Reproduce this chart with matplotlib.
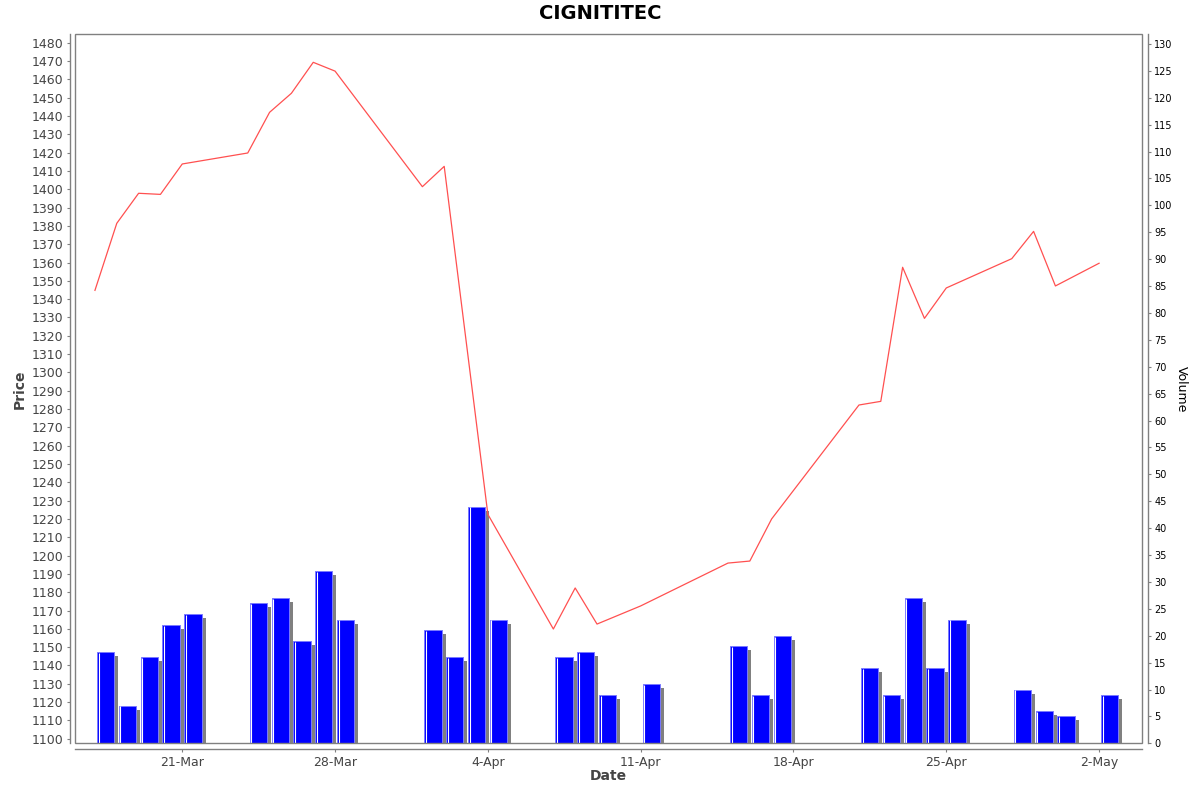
import datetime as dt
import matplotlib
matplotlib.use("Agg")
import matplotlib.pyplot as plt
import matplotlib.dates as mdates
from matplotlib.transforms import ScaledTranslation
from matplotlib.patches import Rectangle

plt.rcParams['font.family'] = ['DejaVu Sans']

title = "CIGNITITEC"

price_dates = ["2025-03-17", "2025-03-18", "2025-03-19", "2025-03-20", "2025-03-21",
               "2025-03-24", "2025-03-25", "2025-03-26", "2025-03-27", "2025-03-28",
               "2025-04-01", "2025-04-02", "2025-04-04",
               "2025-04-07", "2025-04-08", "2025-04-09", "2025-04-11",
               "2025-04-15", "2025-04-16", "2025-04-17",
               "2025-04-21", "2025-04-22", "2025-04-23", "2025-04-24", "2025-04-25",
               "2025-04-28", "2025-04-29", "2025-04-30", "2025-05-02"]
prices = [1344.8, 1381.4, 1397.8, 1397.2, 1413.8,
          1419.8, 1442.0, 1452.4, 1469.3, 1464.5,
          1401.4, 1412.5, 1222.5,
          1159.9, 1182.3, 1162.6, 1172.5,
          1195.9, 1197.0, 1220.0,
          1282.2, 1284.2, 1357.4, 1329.5, 1346.1,
          1362.1, 1377.0, 1347.2, 1359.6]

volume_dates = ["2025-03-17", "2025-03-18", "2025-03-19", "2025-03-20", "2025-03-21",
                "2025-03-24", "2025-03-25", "2025-03-26", "2025-03-27", "2025-03-28",
                "2025-04-01", "2025-04-02", "2025-04-03", "2025-04-04",
                "2025-04-07", "2025-04-08", "2025-04-09", "2025-04-11",
                "2025-04-15", "2025-04-16", "2025-04-17",
                "2025-04-21", "2025-04-22", "2025-04-23", "2025-04-24", "2025-04-25",
                "2025-04-28", "2025-04-29", "2025-04-30", "2025-05-02"]
volumes = [17, 7, 16, 22, 24,
           26, 27, 19, 32, 23,
           21, 16, 44, 23,
           16, 17, 9, 11,
           18, 9, 20,
           14, 9, 27, 14, 23,
           10, 6, 5, 9]

tick_dates = ["2025-03-21", "2025-03-28", "2025-04-04", "2025-04-11",
              "2025-04-18", "2025-04-25", "2025-05-02"]
tick_labels = ["21-Mar", "28-Mar", "4-Apr", "11-Apr", "18-Apr", "25-Apr", "2-May"]

price_ticks = list(range(1100, 1481, 10))
volume_ticks = list(range(0, 131, 5))


def to_num(s):
    return mdates.date2num(dt.datetime.strptime(s, "%Y-%m-%d"))


px = [to_num(d) for d in price_dates]
vx = [to_num(d) for d in volume_dates]
tx = [to_num(d) for d in tick_dates]

DPI = 100
fig = plt.figure(figsize=(12, 7.92), dpi=DPI)
L, R, T, B = 75.3, 1142.3, 34.3, 743.3
W, H = 1200, 792
ax = fig.add_axes([L / W, 1 - B / H, (R - L) / W, (B - T) / H])
ax2 = ax.twinx()
ax.set_zorder(ax2.get_zorder() + 1)
ax.patch.set_visible(False)

gray = '#808080'

# volume bars on ax2
bar_left = [x + 0.092 for x in vx]
bw = 0.79
shadow = ScaledTranslation(4 / DPI, -4 / DPI, fig.dpi_scale_trans)
ax2.bar(bar_left, volumes, width=bw, align='edge', color='#808080', linewidth=0,
        transform=ax2.transData + shadow, zorder=1)
ax2.bar(bar_left, volumes, width=bw, align='edge', color='#0000ff',
        edgecolor='#7a7aff', linewidth=0.7, zorder=2)
white_off = ScaledTranslation(1.6 / DPI, 0, fig.dpi_scale_trans)
ax2.vlines(bar_left, 0, [v - 0.15 for v in volumes], colors='white', linewidth=0.8,
           transform=ax2.transData + white_off, zorder=3)

# price line on ax
ax.plot(px, prices, color='#ff5050', linewidth=0.9, zorder=4)

ax.set_xlim(to_num("2025-03-16") + 0.10, to_num("2025-05-03") + 0.98)
ax.set_ylim(1097.5, 1484.6)
ax2.set_ylim(0, 131.8)

ax.set_xticks(tx)
ax.set_xticklabels(tick_labels)
ax.set_yticks(price_ticks)
ax2.set_yticks(volume_ticks)

ax.tick_params(axis='both', direction='out', length=2.5, width=0.8, color=gray,
               labelcolor='#444444', labelsize=9, pad=2)
ax.tick_params(axis='x', pad=3)
ax2.tick_params(axis='y', direction='out', length=2.5, width=0.8, color=gray,
                labelcolor='black', labelsize=7, pad=2)

for a in (ax, ax2):
    for s in a.spines.values():
        s.set_visible(False)
for s in ('left', 'bottom'):
    ax.spines[s].set_visible(True)
    ax.spines[s].set_position(('outward', 4))
    ax.spines[s].set_color(gray)
    ax.spines[s].set_linewidth(1.0)
ax2.spines['right'].set_visible(True)
ax2.spines['right'].set_position(('outward', 4))
ax2.spines['right'].set_color(gray)
ax2.spines['right'].set_linewidth(1.0)

ax.add_patch(Rectangle((0, 0), 1, 1, transform=ax.transAxes, fill=False,
                       edgecolor=gray, linewidth=1.0, clip_on=False, zorder=5))

fig.text(0.5, 1 - 13.3 / H, title, ha='center', va='center', fontsize=14,
         fontweight='bold', color='black')
fig.text(608.8 / W, 1 - 776 / H, "Date", ha='center', va='center', fontsize=10,
         fontweight='bold', color='#444444')
fig.text(20 / W, 1 - 389 / H, "Price", ha='center', va='center', fontsize=10,
         fontweight='bold', color='#444444', rotation=90)
fig.text(1181 / W, 1 - 389 / H, "Volume", ha='center', va='center', fontsize=9,
         color='black', rotation=270)

fig.savefig("out.png", dpi=DPI)
